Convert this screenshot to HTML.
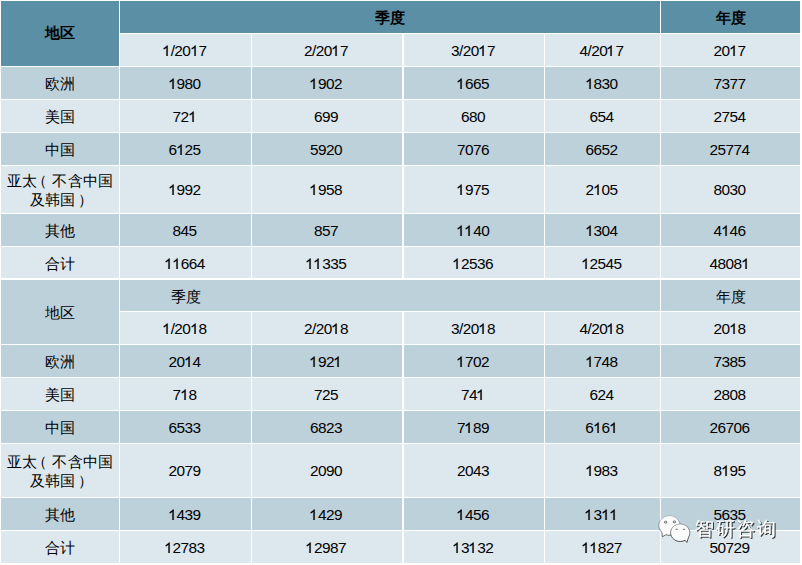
<!DOCTYPE html>
<html><head><meta charset="utf-8">
<style>
html,body{margin:0;padding:0;background:#fff;width:802px;height:565px;overflow:hidden;position:relative}
body>div{position:absolute;display:flex;align-items:center;justify-content:center;text-align:center;
font-family:"Liberation Sans",sans-serif;font-size:15px;line-height:20px;color:#000}
span{position:relative;top:1px}
.n{top:1px}
.n{display:inline-block;font-size:15.4px;letter-spacing:-0.562px;margin-right:2px}
.lp{top:0;left:-5px}
.rp{top:0;left:3px}
.b{font-weight:bold}
.o{display:inline-block;position:relative;width:8.2px;height:0}
.o svg{position:absolute;left:-0.8px;bottom:0;width:8.56px;height:10.9px}
.tall .n{top:0}
.up span{top:-1px}
.ml{line-height:19px;top:0;letter-spacing:0.25px}
body>div.wm{left:695px;top:517px;width:95px;height:24px;font-size:19px;letter-spacing:1.55px;line-height:24px;color:#fff;
-webkit-text-stroke:0.25px #fff;filter:drop-shadow(1px 1px 0.4px rgba(0,0,0,0.8));white-space:nowrap;display:block;text-align:left}
</style></head><body>
<div class="b up" style="left:1px;top:1px;width:118px;height:65px;background:#5b8fa6"><span class="c">地区</span></div>
<div class="b" style="left:120px;top:1px;width:540px;height:32px;background:#5b8fa6"><span class="c">季度</span></div>
<div class="b" style="left:661px;top:1px;width:139px;height:32px;background:#5b8fa6"><span class="c">年度</span></div>
<div style="left:120px;top:34px;width:131px;height:32px;background:#dde8ee"><span class="n"><i class="o"><svg viewBox="0 0 1139 1540" preserveAspectRatio="none"><path stroke="#000" stroke-width="22" d="M763 1540H583V393Q518 455 413 517Q308 579 224 610V436Q375 365 488 264Q601 163 648 68H763Z"/></svg></i>/20<i class="o"><svg viewBox="0 0 1139 1540" preserveAspectRatio="none"><path stroke="#000" stroke-width="22" d="M763 1540H583V393Q518 455 413 517Q308 579 224 610V436Q375 365 488 264Q601 163 648 68H763Z"/></svg></i>7</span></div>
<div style="left:252px;top:34px;width:150px;height:32px;background:#dde8ee"><span class="n">2/20<i class="o"><svg viewBox="0 0 1139 1540" preserveAspectRatio="none"><path stroke="#000" stroke-width="22" d="M763 1540H583V393Q518 455 413 517Q308 579 224 610V436Q375 365 488 264Q601 163 648 68H763Z"/></svg></i>7</span></div>
<div style="left:404px;top:34px;width:140px;height:32px;background:#dde8ee"><span class="n">3/20<i class="o"><svg viewBox="0 0 1139 1540" preserveAspectRatio="none"><path stroke="#000" stroke-width="22" d="M763 1540H583V393Q518 455 413 517Q308 579 224 610V436Q375 365 488 264Q601 163 648 68H763Z"/></svg></i>7</span></div>
<div style="left:545px;top:34px;width:115px;height:32px;background:#dde8ee"><span class="n">4/20<i class="o"><svg viewBox="0 0 1139 1540" preserveAspectRatio="none"><path stroke="#000" stroke-width="22" d="M763 1540H583V393Q518 455 413 517Q308 579 224 610V436Q375 365 488 264Q601 163 648 68H763Z"/></svg></i>7</span></div>
<div style="left:661px;top:34px;width:139px;height:32px;background:#dde8ee"><span class="n">20<i class="o"><svg viewBox="0 0 1139 1540" preserveAspectRatio="none"><path stroke="#000" stroke-width="22" d="M763 1540H583V393Q518 455 413 517Q308 579 224 610V436Q375 365 488 264Q601 163 648 68H763Z"/></svg></i>7</span></div>
<div style="left:1px;top:67px;width:118px;height:32px;background:#bdd1db"><span class="c">欧洲</span></div>
<div style="left:120px;top:67px;width:131px;height:32px;background:#bdd1db"><span class="n"><i class="o"><svg viewBox="0 0 1139 1540" preserveAspectRatio="none"><path stroke="#000" stroke-width="22" d="M763 1540H583V393Q518 455 413 517Q308 579 224 610V436Q375 365 488 264Q601 163 648 68H763Z"/></svg></i>980</span></div>
<div style="left:252px;top:67px;width:150px;height:32px;background:#bdd1db"><span class="n"><i class="o"><svg viewBox="0 0 1139 1540" preserveAspectRatio="none"><path stroke="#000" stroke-width="22" d="M763 1540H583V393Q518 455 413 517Q308 579 224 610V436Q375 365 488 264Q601 163 648 68H763Z"/></svg></i>902</span></div>
<div style="left:404px;top:67px;width:140px;height:32px;background:#bdd1db"><span class="n"><i class="o"><svg viewBox="0 0 1139 1540" preserveAspectRatio="none"><path stroke="#000" stroke-width="22" d="M763 1540H583V393Q518 455 413 517Q308 579 224 610V436Q375 365 488 264Q601 163 648 68H763Z"/></svg></i>665</span></div>
<div style="left:545px;top:67px;width:115px;height:32px;background:#bdd1db"><span class="n"><i class="o"><svg viewBox="0 0 1139 1540" preserveAspectRatio="none"><path stroke="#000" stroke-width="22" d="M763 1540H583V393Q518 455 413 517Q308 579 224 610V436Q375 365 488 264Q601 163 648 68H763Z"/></svg></i>830</span></div>
<div style="left:661px;top:67px;width:139px;height:32px;background:#bdd1db"><span class="n">7377</span></div>
<div style="left:1px;top:100px;width:118px;height:32px;background:#dde8ee"><span class="c">美国</span></div>
<div style="left:120px;top:100px;width:131px;height:32px;background:#dde8ee"><span class="n">72<i class="o"><svg viewBox="0 0 1139 1540" preserveAspectRatio="none"><path stroke="#000" stroke-width="22" d="M763 1540H583V393Q518 455 413 517Q308 579 224 610V436Q375 365 488 264Q601 163 648 68H763Z"/></svg></i></span></div>
<div style="left:252px;top:100px;width:150px;height:32px;background:#dde8ee"><span class="n">699</span></div>
<div style="left:404px;top:100px;width:140px;height:32px;background:#dde8ee"><span class="n">680</span></div>
<div style="left:545px;top:100px;width:115px;height:32px;background:#dde8ee"><span class="n">654</span></div>
<div style="left:661px;top:100px;width:139px;height:32px;background:#dde8ee"><span class="n">2754</span></div>
<div style="left:1px;top:133px;width:118px;height:32px;background:#bdd1db"><span class="c">中国</span></div>
<div style="left:120px;top:133px;width:131px;height:32px;background:#bdd1db"><span class="n">6<i class="o"><svg viewBox="0 0 1139 1540" preserveAspectRatio="none"><path stroke="#000" stroke-width="22" d="M763 1540H583V393Q518 455 413 517Q308 579 224 610V436Q375 365 488 264Q601 163 648 68H763Z"/></svg></i>25</span></div>
<div style="left:252px;top:133px;width:150px;height:32px;background:#bdd1db"><span class="n">5920</span></div>
<div style="left:404px;top:133px;width:140px;height:32px;background:#bdd1db"><span class="n">7076</span></div>
<div style="left:545px;top:133px;width:115px;height:32px;background:#bdd1db"><span class="n">6652</span></div>
<div style="left:661px;top:133px;width:139px;height:32px;background:#bdd1db"><span class="n">25774</span></div>
<div class="tall" style="left:1px;top:166px;width:118px;height:47px;background:#dde8ee"><span class="c ml">亚太<span class="lp">（</span>不含中国<br>及韩国<span class="rp">）</span></span></div>
<div class="tall" style="left:120px;top:166px;width:131px;height:47px;background:#dde8ee"><span class="n"><i class="o"><svg viewBox="0 0 1139 1540" preserveAspectRatio="none"><path stroke="#000" stroke-width="22" d="M763 1540H583V393Q518 455 413 517Q308 579 224 610V436Q375 365 488 264Q601 163 648 68H763Z"/></svg></i>992</span></div>
<div class="tall" style="left:252px;top:166px;width:150px;height:47px;background:#dde8ee"><span class="n"><i class="o"><svg viewBox="0 0 1139 1540" preserveAspectRatio="none"><path stroke="#000" stroke-width="22" d="M763 1540H583V393Q518 455 413 517Q308 579 224 610V436Q375 365 488 264Q601 163 648 68H763Z"/></svg></i>958</span></div>
<div class="tall" style="left:404px;top:166px;width:140px;height:47px;background:#dde8ee"><span class="n"><i class="o"><svg viewBox="0 0 1139 1540" preserveAspectRatio="none"><path stroke="#000" stroke-width="22" d="M763 1540H583V393Q518 455 413 517Q308 579 224 610V436Q375 365 488 264Q601 163 648 68H763Z"/></svg></i>975</span></div>
<div class="tall" style="left:545px;top:166px;width:115px;height:47px;background:#dde8ee"><span class="n">2<i class="o"><svg viewBox="0 0 1139 1540" preserveAspectRatio="none"><path stroke="#000" stroke-width="22" d="M763 1540H583V393Q518 455 413 517Q308 579 224 610V436Q375 365 488 264Q601 163 648 68H763Z"/></svg></i>05</span></div>
<div class="tall" style="left:661px;top:166px;width:139px;height:47px;background:#dde8ee"><span class="n">8030</span></div>
<div style="left:1px;top:214px;width:118px;height:32px;background:#bdd1db"><span class="c">其他</span></div>
<div style="left:120px;top:214px;width:131px;height:32px;background:#bdd1db"><span class="n">845</span></div>
<div style="left:252px;top:214px;width:150px;height:32px;background:#bdd1db"><span class="n">857</span></div>
<div style="left:404px;top:214px;width:140px;height:32px;background:#bdd1db"><span class="n"><i class="o"><svg viewBox="0 0 1139 1540" preserveAspectRatio="none"><path stroke="#000" stroke-width="22" d="M763 1540H583V393Q518 455 413 517Q308 579 224 610V436Q375 365 488 264Q601 163 648 68H763Z"/></svg></i><i class="o"><svg viewBox="0 0 1139 1540" preserveAspectRatio="none"><path stroke="#000" stroke-width="22" d="M763 1540H583V393Q518 455 413 517Q308 579 224 610V436Q375 365 488 264Q601 163 648 68H763Z"/></svg></i>40</span></div>
<div style="left:545px;top:214px;width:115px;height:32px;background:#bdd1db"><span class="n"><i class="o"><svg viewBox="0 0 1139 1540" preserveAspectRatio="none"><path stroke="#000" stroke-width="22" d="M763 1540H583V393Q518 455 413 517Q308 579 224 610V436Q375 365 488 264Q601 163 648 68H763Z"/></svg></i>304</span></div>
<div style="left:661px;top:214px;width:139px;height:32px;background:#bdd1db"><span class="n">4<i class="o"><svg viewBox="0 0 1139 1540" preserveAspectRatio="none"><path stroke="#000" stroke-width="22" d="M763 1540H583V393Q518 455 413 517Q308 579 224 610V436Q375 365 488 264Q601 163 648 68H763Z"/></svg></i>46</span></div>
<div style="left:1px;top:247px;width:118px;height:31px;background:#dde8ee"><span class="c">合计</span></div>
<div style="left:120px;top:247px;width:131px;height:31px;background:#dde8ee"><span class="n"><i class="o"><svg viewBox="0 0 1139 1540" preserveAspectRatio="none"><path stroke="#000" stroke-width="22" d="M763 1540H583V393Q518 455 413 517Q308 579 224 610V436Q375 365 488 264Q601 163 648 68H763Z"/></svg></i><i class="o"><svg viewBox="0 0 1139 1540" preserveAspectRatio="none"><path stroke="#000" stroke-width="22" d="M763 1540H583V393Q518 455 413 517Q308 579 224 610V436Q375 365 488 264Q601 163 648 68H763Z"/></svg></i>664</span></div>
<div style="left:252px;top:247px;width:150px;height:31px;background:#dde8ee"><span class="n"><i class="o"><svg viewBox="0 0 1139 1540" preserveAspectRatio="none"><path stroke="#000" stroke-width="22" d="M763 1540H583V393Q518 455 413 517Q308 579 224 610V436Q375 365 488 264Q601 163 648 68H763Z"/></svg></i><i class="o"><svg viewBox="0 0 1139 1540" preserveAspectRatio="none"><path stroke="#000" stroke-width="22" d="M763 1540H583V393Q518 455 413 517Q308 579 224 610V436Q375 365 488 264Q601 163 648 68H763Z"/></svg></i>335</span></div>
<div style="left:404px;top:247px;width:140px;height:31px;background:#dde8ee"><span class="n"><i class="o"><svg viewBox="0 0 1139 1540" preserveAspectRatio="none"><path stroke="#000" stroke-width="22" d="M763 1540H583V393Q518 455 413 517Q308 579 224 610V436Q375 365 488 264Q601 163 648 68H763Z"/></svg></i>2536</span></div>
<div style="left:545px;top:247px;width:115px;height:31px;background:#dde8ee"><span class="n"><i class="o"><svg viewBox="0 0 1139 1540" preserveAspectRatio="none"><path stroke="#000" stroke-width="22" d="M763 1540H583V393Q518 455 413 517Q308 579 224 610V436Q375 365 488 264Q601 163 648 68H763Z"/></svg></i>2545</span></div>
<div style="left:661px;top:247px;width:139px;height:31px;background:#dde8ee"><span class="n">4808<i class="o"><svg viewBox="0 0 1139 1540" preserveAspectRatio="none"><path stroke="#000" stroke-width="22" d="M763 1540H583V393Q518 455 413 517Q308 579 224 610V436Q375 365 488 264Q601 163 648 68H763Z"/></svg></i></span></div>
<div style="left:1px;top:280px;width:118px;height:64px;background:#bdd1db"><span class="c">地区</span></div>
<div style="left:120px;top:280px;width:540px;height:31px;background:#bdd1db"></div>
<div style="left:120px;top:280px;width:131px;height:31px;background:transparent"><span class="c">季度</span></div>
<div style="left:661px;top:280px;width:139px;height:31px;background:#bdd1db"><span class="c">年度</span></div>
<div style="left:120px;top:312px;width:131px;height:32px;background:#dde8ee"><span class="n"><i class="o"><svg viewBox="0 0 1139 1540" preserveAspectRatio="none"><path stroke="#000" stroke-width="22" d="M763 1540H583V393Q518 455 413 517Q308 579 224 610V436Q375 365 488 264Q601 163 648 68H763Z"/></svg></i>/20<i class="o"><svg viewBox="0 0 1139 1540" preserveAspectRatio="none"><path stroke="#000" stroke-width="22" d="M763 1540H583V393Q518 455 413 517Q308 579 224 610V436Q375 365 488 264Q601 163 648 68H763Z"/></svg></i>8</span></div>
<div style="left:252px;top:312px;width:150px;height:32px;background:#dde8ee"><span class="n">2/20<i class="o"><svg viewBox="0 0 1139 1540" preserveAspectRatio="none"><path stroke="#000" stroke-width="22" d="M763 1540H583V393Q518 455 413 517Q308 579 224 610V436Q375 365 488 264Q601 163 648 68H763Z"/></svg></i>8</span></div>
<div style="left:404px;top:312px;width:140px;height:32px;background:#dde8ee"><span class="n">3/20<i class="o"><svg viewBox="0 0 1139 1540" preserveAspectRatio="none"><path stroke="#000" stroke-width="22" d="M763 1540H583V393Q518 455 413 517Q308 579 224 610V436Q375 365 488 264Q601 163 648 68H763Z"/></svg></i>8</span></div>
<div style="left:545px;top:312px;width:115px;height:32px;background:#dde8ee"><span class="n">4/20<i class="o"><svg viewBox="0 0 1139 1540" preserveAspectRatio="none"><path stroke="#000" stroke-width="22" d="M763 1540H583V393Q518 455 413 517Q308 579 224 610V436Q375 365 488 264Q601 163 648 68H763Z"/></svg></i>8</span></div>
<div style="left:661px;top:312px;width:139px;height:32px;background:#dde8ee"><span class="n">20<i class="o"><svg viewBox="0 0 1139 1540" preserveAspectRatio="none"><path stroke="#000" stroke-width="22" d="M763 1540H583V393Q518 455 413 517Q308 579 224 610V436Q375 365 488 264Q601 163 648 68H763Z"/></svg></i>8</span></div>
<div style="left:1px;top:345px;width:118px;height:32px;background:#bdd1db"><span class="c">欧洲</span></div>
<div style="left:120px;top:345px;width:131px;height:32px;background:#bdd1db"><span class="n">20<i class="o"><svg viewBox="0 0 1139 1540" preserveAspectRatio="none"><path stroke="#000" stroke-width="22" d="M763 1540H583V393Q518 455 413 517Q308 579 224 610V436Q375 365 488 264Q601 163 648 68H763Z"/></svg></i>4</span></div>
<div style="left:252px;top:345px;width:150px;height:32px;background:#bdd1db"><span class="n"><i class="o"><svg viewBox="0 0 1139 1540" preserveAspectRatio="none"><path stroke="#000" stroke-width="22" d="M763 1540H583V393Q518 455 413 517Q308 579 224 610V436Q375 365 488 264Q601 163 648 68H763Z"/></svg></i>92<i class="o"><svg viewBox="0 0 1139 1540" preserveAspectRatio="none"><path stroke="#000" stroke-width="22" d="M763 1540H583V393Q518 455 413 517Q308 579 224 610V436Q375 365 488 264Q601 163 648 68H763Z"/></svg></i></span></div>
<div style="left:404px;top:345px;width:140px;height:32px;background:#bdd1db"><span class="n"><i class="o"><svg viewBox="0 0 1139 1540" preserveAspectRatio="none"><path stroke="#000" stroke-width="22" d="M763 1540H583V393Q518 455 413 517Q308 579 224 610V436Q375 365 488 264Q601 163 648 68H763Z"/></svg></i>702</span></div>
<div style="left:545px;top:345px;width:115px;height:32px;background:#bdd1db"><span class="n"><i class="o"><svg viewBox="0 0 1139 1540" preserveAspectRatio="none"><path stroke="#000" stroke-width="22" d="M763 1540H583V393Q518 455 413 517Q308 579 224 610V436Q375 365 488 264Q601 163 648 68H763Z"/></svg></i>748</span></div>
<div style="left:661px;top:345px;width:139px;height:32px;background:#bdd1db"><span class="n">7385</span></div>
<div style="left:1px;top:378px;width:118px;height:32px;background:#dde8ee"><span class="c">美国</span></div>
<div style="left:120px;top:378px;width:131px;height:32px;background:#dde8ee"><span class="n">7<i class="o"><svg viewBox="0 0 1139 1540" preserveAspectRatio="none"><path stroke="#000" stroke-width="22" d="M763 1540H583V393Q518 455 413 517Q308 579 224 610V436Q375 365 488 264Q601 163 648 68H763Z"/></svg></i>8</span></div>
<div style="left:252px;top:378px;width:150px;height:32px;background:#dde8ee"><span class="n">725</span></div>
<div style="left:404px;top:378px;width:140px;height:32px;background:#dde8ee"><span class="n">74<i class="o"><svg viewBox="0 0 1139 1540" preserveAspectRatio="none"><path stroke="#000" stroke-width="22" d="M763 1540H583V393Q518 455 413 517Q308 579 224 610V436Q375 365 488 264Q601 163 648 68H763Z"/></svg></i></span></div>
<div style="left:545px;top:378px;width:115px;height:32px;background:#dde8ee"><span class="n">624</span></div>
<div style="left:661px;top:378px;width:139px;height:32px;background:#dde8ee"><span class="n">2808</span></div>
<div style="left:1px;top:411px;width:118px;height:32px;background:#bdd1db"><span class="c">中国</span></div>
<div style="left:120px;top:411px;width:131px;height:32px;background:#bdd1db"><span class="n">6533</span></div>
<div style="left:252px;top:411px;width:150px;height:32px;background:#bdd1db"><span class="n">6823</span></div>
<div style="left:404px;top:411px;width:140px;height:32px;background:#bdd1db"><span class="n">7<i class="o"><svg viewBox="0 0 1139 1540" preserveAspectRatio="none"><path stroke="#000" stroke-width="22" d="M763 1540H583V393Q518 455 413 517Q308 579 224 610V436Q375 365 488 264Q601 163 648 68H763Z"/></svg></i>89</span></div>
<div style="left:545px;top:411px;width:115px;height:32px;background:#bdd1db"><span class="n">6<i class="o"><svg viewBox="0 0 1139 1540" preserveAspectRatio="none"><path stroke="#000" stroke-width="22" d="M763 1540H583V393Q518 455 413 517Q308 579 224 610V436Q375 365 488 264Q601 163 648 68H763Z"/></svg></i>6<i class="o"><svg viewBox="0 0 1139 1540" preserveAspectRatio="none"><path stroke="#000" stroke-width="22" d="M763 1540H583V393Q518 455 413 517Q308 579 224 610V436Q375 365 488 264Q601 163 648 68H763Z"/></svg></i></span></div>
<div style="left:661px;top:411px;width:139px;height:32px;background:#bdd1db"><span class="n">26706</span></div>
<div class="tall" style="left:1px;top:444px;width:118px;height:53px;background:#dde8ee"><span class="c ml">亚太<span class="lp">（</span>不含中国<br>及韩国<span class="rp">）</span></span></div>
<div class="tall" style="left:120px;top:444px;width:131px;height:53px;background:#dde8ee"><span class="n">2079</span></div>
<div class="tall" style="left:252px;top:444px;width:150px;height:53px;background:#dde8ee"><span class="n">2090</span></div>
<div class="tall" style="left:404px;top:444px;width:140px;height:53px;background:#dde8ee"><span class="n">2043</span></div>
<div class="tall" style="left:545px;top:444px;width:115px;height:53px;background:#dde8ee"><span class="n"><i class="o"><svg viewBox="0 0 1139 1540" preserveAspectRatio="none"><path stroke="#000" stroke-width="22" d="M763 1540H583V393Q518 455 413 517Q308 579 224 610V436Q375 365 488 264Q601 163 648 68H763Z"/></svg></i>983</span></div>
<div class="tall" style="left:661px;top:444px;width:139px;height:53px;background:#dde8ee"><span class="n">8<i class="o"><svg viewBox="0 0 1139 1540" preserveAspectRatio="none"><path stroke="#000" stroke-width="22" d="M763 1540H583V393Q518 455 413 517Q308 579 224 610V436Q375 365 488 264Q601 163 648 68H763Z"/></svg></i>95</span></div>
<div style="left:1px;top:498px;width:118px;height:32px;background:#bdd1db"><span class="c">其他</span></div>
<div style="left:120px;top:498px;width:131px;height:32px;background:#bdd1db"><span class="n"><i class="o"><svg viewBox="0 0 1139 1540" preserveAspectRatio="none"><path stroke="#000" stroke-width="22" d="M763 1540H583V393Q518 455 413 517Q308 579 224 610V436Q375 365 488 264Q601 163 648 68H763Z"/></svg></i>439</span></div>
<div style="left:252px;top:498px;width:150px;height:32px;background:#bdd1db"><span class="n"><i class="o"><svg viewBox="0 0 1139 1540" preserveAspectRatio="none"><path stroke="#000" stroke-width="22" d="M763 1540H583V393Q518 455 413 517Q308 579 224 610V436Q375 365 488 264Q601 163 648 68H763Z"/></svg></i>429</span></div>
<div style="left:404px;top:498px;width:140px;height:32px;background:#bdd1db"><span class="n"><i class="o"><svg viewBox="0 0 1139 1540" preserveAspectRatio="none"><path stroke="#000" stroke-width="22" d="M763 1540H583V393Q518 455 413 517Q308 579 224 610V436Q375 365 488 264Q601 163 648 68H763Z"/></svg></i>456</span></div>
<div style="left:545px;top:498px;width:115px;height:32px;background:#bdd1db"><span class="n"><i class="o"><svg viewBox="0 0 1139 1540" preserveAspectRatio="none"><path stroke="#000" stroke-width="22" d="M763 1540H583V393Q518 455 413 517Q308 579 224 610V436Q375 365 488 264Q601 163 648 68H763Z"/></svg></i>3<i class="o"><svg viewBox="0 0 1139 1540" preserveAspectRatio="none"><path stroke="#000" stroke-width="22" d="M763 1540H583V393Q518 455 413 517Q308 579 224 610V436Q375 365 488 264Q601 163 648 68H763Z"/></svg></i><i class="o"><svg viewBox="0 0 1139 1540" preserveAspectRatio="none"><path stroke="#000" stroke-width="22" d="M763 1540H583V393Q518 455 413 517Q308 579 224 610V436Q375 365 488 264Q601 163 648 68H763Z"/></svg></i></span></div>
<div style="left:661px;top:498px;width:139px;height:32px;background:#bdd1db"><span class="n">5635</span></div>
<div style="left:1px;top:531px;width:118px;height:32px;background:#dde8ee"><span class="c">合计</span></div>
<div style="left:120px;top:531px;width:131px;height:32px;background:#dde8ee"><span class="n"><i class="o"><svg viewBox="0 0 1139 1540" preserveAspectRatio="none"><path stroke="#000" stroke-width="22" d="M763 1540H583V393Q518 455 413 517Q308 579 224 610V436Q375 365 488 264Q601 163 648 68H763Z"/></svg></i>2783</span></div>
<div style="left:252px;top:531px;width:150px;height:32px;background:#dde8ee"><span class="n"><i class="o"><svg viewBox="0 0 1139 1540" preserveAspectRatio="none"><path stroke="#000" stroke-width="22" d="M763 1540H583V393Q518 455 413 517Q308 579 224 610V436Q375 365 488 264Q601 163 648 68H763Z"/></svg></i>2987</span></div>
<div style="left:404px;top:531px;width:140px;height:32px;background:#dde8ee"><span class="n"><i class="o"><svg viewBox="0 0 1139 1540" preserveAspectRatio="none"><path stroke="#000" stroke-width="22" d="M763 1540H583V393Q518 455 413 517Q308 579 224 610V436Q375 365 488 264Q601 163 648 68H763Z"/></svg></i>3<i class="o"><svg viewBox="0 0 1139 1540" preserveAspectRatio="none"><path stroke="#000" stroke-width="22" d="M763 1540H583V393Q518 455 413 517Q308 579 224 610V436Q375 365 488 264Q601 163 648 68H763Z"/></svg></i>32</span></div>
<div style="left:545px;top:531px;width:115px;height:32px;background:#dde8ee"><span class="n"><i class="o"><svg viewBox="0 0 1139 1540" preserveAspectRatio="none"><path stroke="#000" stroke-width="22" d="M763 1540H583V393Q518 455 413 517Q308 579 224 610V436Q375 365 488 264Q601 163 648 68H763Z"/></svg></i><i class="o"><svg viewBox="0 0 1139 1540" preserveAspectRatio="none"><path stroke="#000" stroke-width="22" d="M763 1540H583V393Q518 455 413 517Q308 579 224 610V436Q375 365 488 264Q601 163 648 68H763Z"/></svg></i>827</span></div>
<div style="left:661px;top:531px;width:139px;height:32px;background:#dde8ee"><span class="n">50729</span></div>
<svg style="position:absolute;left:650px;top:505px" width="50" height="45" viewBox="0 0 50 45">
<defs><linearGradient id="g" gradientUnits="userSpaceOnUse" x1="0" y1="10" x2="0" y2="38">
<stop offset="0" stop-color="rgba(50,50,50,0.2)"/><stop offset="1" stop-color="rgba(30,30,30,0.9)"/></linearGradient></defs>
<g stroke="url(#g)" stroke-width="0.9" fill="#fbfbfb">
<path d="M12.4,31.8 L11.9,27.4 A10.65,9.8 0 1 1 15.8,29.7 Z"/>
<path d="M36.9,37.4 L35.1,35.3 A9.65,8.75 0 1 1 38.6,32.1 Z"/>
</g>
<g fill="rgba(200,210,215,0.6)" stroke="rgba(40,40,40,0.75)" stroke-width="0.8">
<ellipse cx="15.6" cy="17.2" rx="1.3" ry="1.0"/>
<ellipse cx="24.4" cy="16.9" rx="1.3" ry="1.0"/>
</g>
<g fill="rgba(40,40,40,0.7)">
<rect x="25.6" y="23.8" width="2.2" height="0.9"/>
<rect x="32.9" y="23.8" width="2.2" height="0.9"/>
</g>
</svg>
<div class="wm">智研咨询</div>
</body></html>
